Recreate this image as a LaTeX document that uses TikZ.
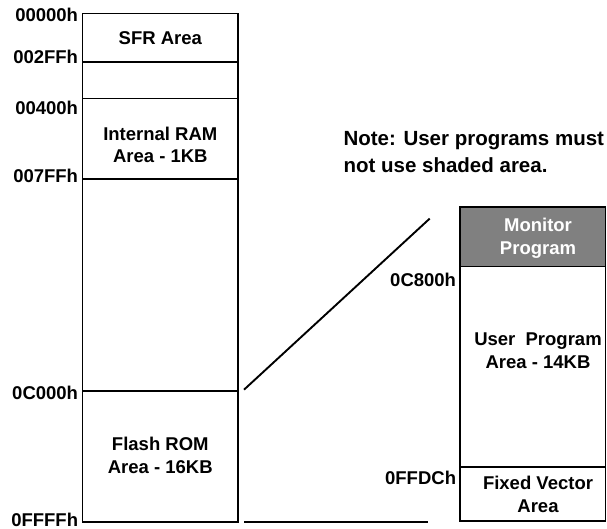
\documentclass[tikz,border=0pt]{standalone}
\usepackage{fontspec}
\setmainfont{Liberation Sans}
\usepackage{tikz}
\usetikzlibrary{positioning}

\definecolor{monitorgray}{RGB}{128,128,128}

\begin{document}
\begin{tikzpicture}[x=1pt, y=-1pt, line width=1.9pt,
    region/.style={draw, rectangle, inner sep=0pt, outer sep=0pt, anchor=north west},
    memtext/.style={font=\fontsize{18.5}{23}\selectfont\bfseries, align=center, inner sep=0pt},
    addr/.style={font=\fontsize{18.5}{22}\selectfont\bfseries, anchor=east, inner sep=0pt}]
  \useasboundingbox (0,0) rectangle (607,529);
  \node[region, minimum width=155.5pt, minimum height=48.9pt] (sfr) at (82.5,13.5){};
  \node[region, minimum width=155.5pt, minimum height=36.1pt] (resv) at (82.5,62.4){};
  \node[region, minimum width=155.5pt, minimum height=80.3pt] (ram) at (82.5,98.5){};
  \node[region, minimum width=155.5pt, minimum height=211.9pt] (unused) at (82.5,178.8){};
  \node[region, minimum width=155.5pt, minimum height=131.3pt] (flash) at (82.5,390.7){};
  \node[memtext] (sfrtxt) at (160.3,37.8){SFR Area};
  \node[memtext, font=\fontsize{18.5}{22}\selectfont\bfseries] (ramtxt) at (160.3,145){Internal RAM\\Area - 1KB};
  \node[memtext] (flashtxt) at (160.3,455.5){Flash ROM\\Area - 16KB};
  \node[addr] (a0) at (79,15.2){00000h};
  \node[addr] (a1) at (79,56.7){002FFh};
  \node[addr] (a2) at (79,108){00400h};
  \node[addr] (a3) at (79,176){007FFh};
  \node[addr] (a4) at (79,393){0C000h};
  \node[addr] (a5) at (79,519.6){0FFFFh};
  \node[region, fill=monitorgray, minimum width=145.5pt, minimum height=59.7pt] (monitor) at (460,206.8){};
  \node[region, minimum width=145.5pt, minimum height=200.8pt] (user) at (460,266.5){};
  \node[region, minimum width=145.5pt, minimum height=53.7pt] (vector) at (460,467.3){};
  \node[memtext, text=white] (montxt) at (538,238){Monitor\\Program};
  \node[memtext] (usertxt) at (538,350.4){User\ \ Program\\Area - 14KB};
  \node[memtext] (vectxt) at (538,494.5){Fixed Vector\\Area};
  \node[addr] (b0) at (457,280){0C800h};
  \node[addr] (b1) at (457,477.4){0FFDCh};
  \node[font=\fontsize{20.5}{26.3}\selectfont\bfseries, align=left, anchor=west, inner sep=0pt] (note) at (342.6,152.2){Note: User programs must\\not use shaded area.};
  \coordinate (zlo) at (244,389.7);
  \coordinate (zhi) at (429.7,218.6);
  \coordinate (blo) at (244,522);
  \coordinate (bhi) at (428,522);
  \draw (zlo) -- (zhi);
  \draw (blo) -- (bhi);
\end{tikzpicture}
\end{document}
